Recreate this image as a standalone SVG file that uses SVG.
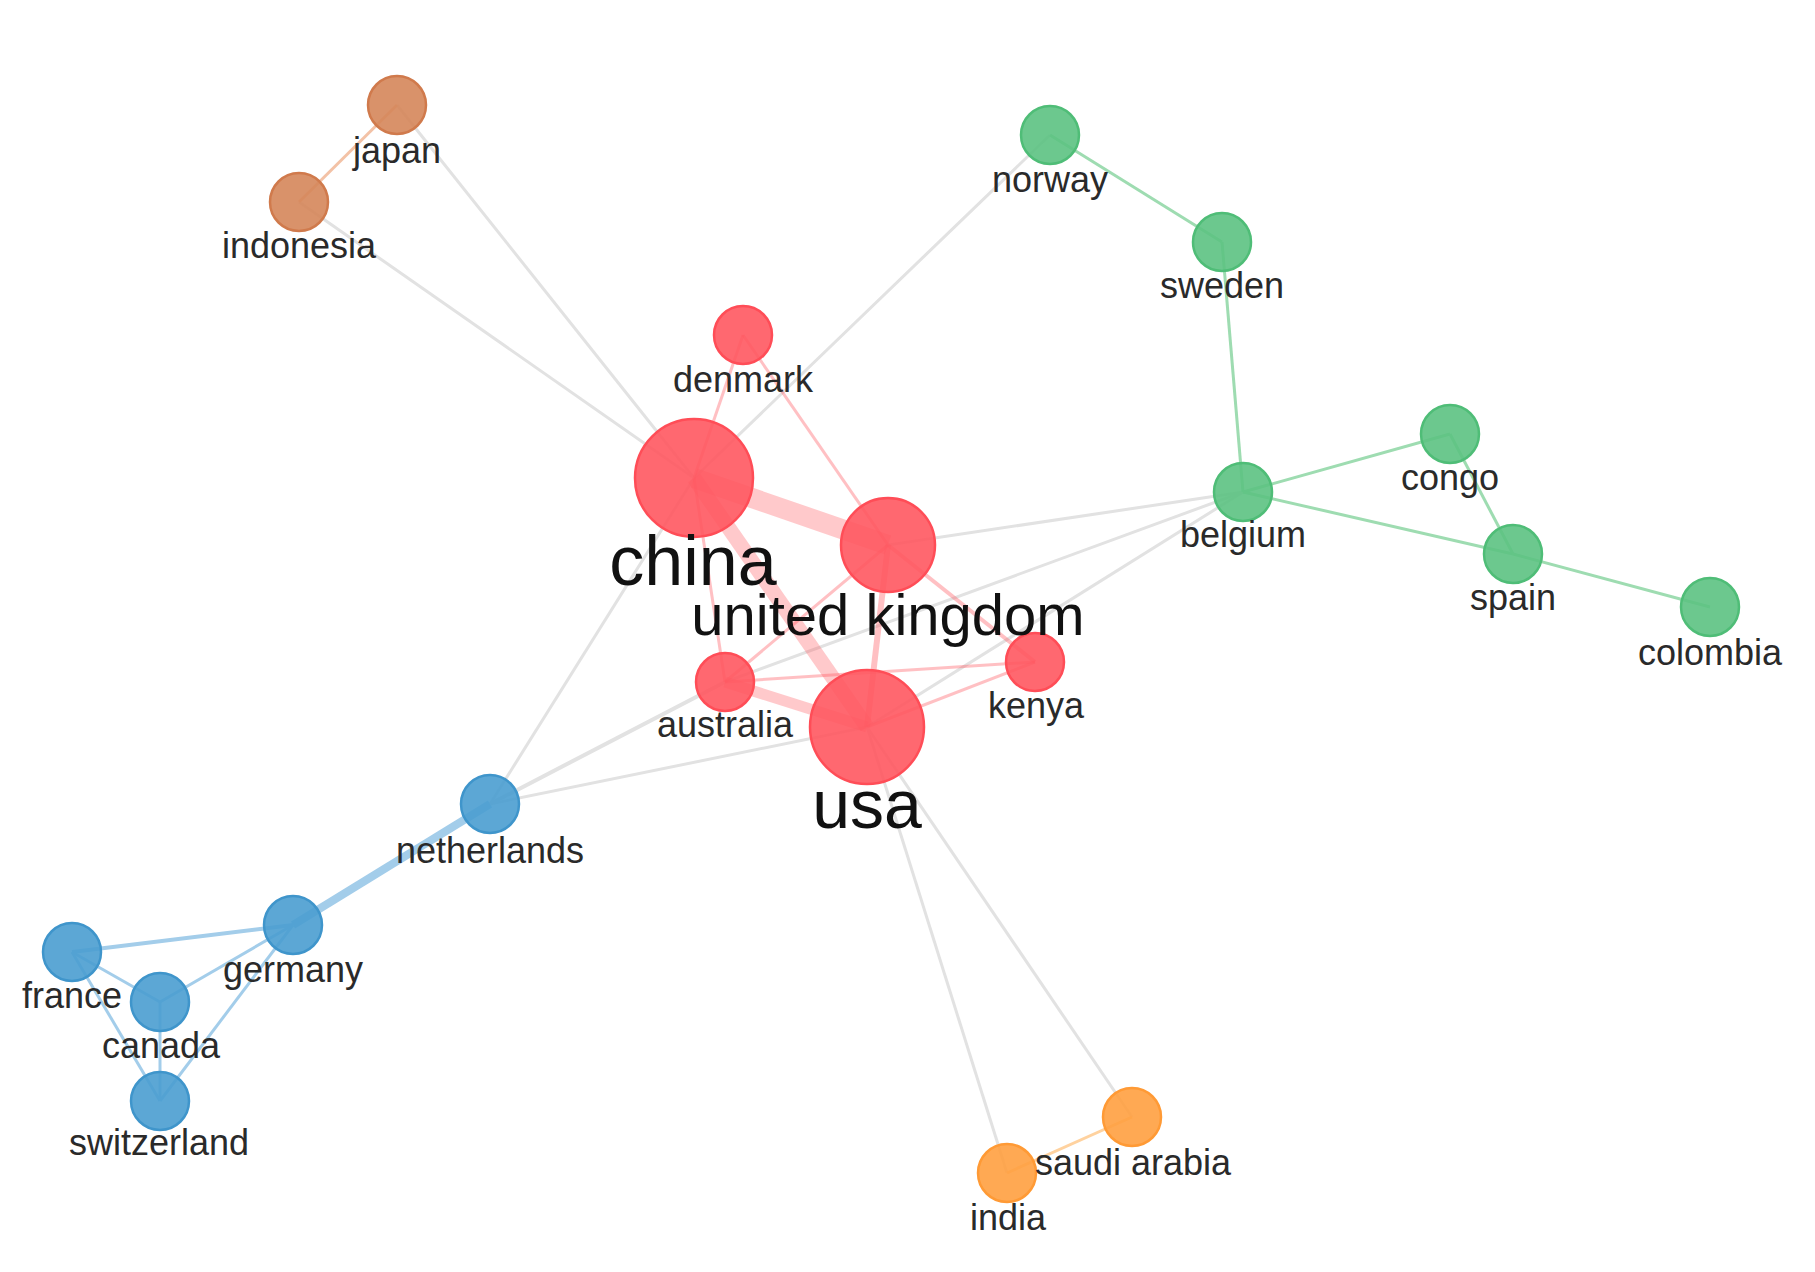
<svg xmlns="http://www.w3.org/2000/svg" width="1815" height="1272" viewBox="0 0 1815 1272">
<style>
  text { font-family: "Liberation Sans", Arial, sans-serif; text-anchor: middle; }
  .lbl { font-size: 36px; fill: #2a2a2a; }
  .big { fill: #111111; }
  .edge { fill: none; stroke-linecap: butt; }
  .grey { stroke: #e2e2e2; stroke-width: 3; }
  .red { stroke: #ff5a62; stroke-opacity: 0.38; stroke-width: 3; }
  .green { stroke: #9edcb1; stroke-width: 3; }
  .blue { stroke: #a3cdea; stroke-width: 3; }
  .brown { stroke: #f3c2a6; stroke-width: 3; }
  .orange { stroke: #ffd29f; stroke-width: 3; }
  .n { stroke-width: 2.5; fill-opacity: 0.9; }
  .nred { fill: #ff5860; stroke: #ff4d57; }
  .ngreen { fill: #5cc282; stroke: #4fbd77; }
  .nblue { fill: #4a9dd0; stroke: #3f95cb; }
  .nbrown { fill: #d5865a; stroke: #d07a4c; }
  .norange { fill: #ffa040; stroke: #ff9a35; }
</style>
<rect x="0" y="0" width="1815" height="1272" fill="#ffffff"/>
<g id="connectors">
  <!-- grey inter-cluster -->
  <line class="edge grey" x1="397" y1="105" x2="694" y2="478"/>
  <line class="edge grey" x1="299" y1="202" x2="694" y2="478"/>
  <line class="edge grey" x1="1050" y1="135" x2="694" y2="478"/>
  <line class="edge grey" x1="1243" y1="492" x2="888" y2="545"/>
  <line class="edge grey" x1="1243" y1="492" x2="725" y2="682"/>
  <line class="edge grey" x1="1243" y1="492" x2="867" y2="727"/>
  <line class="edge grey" x1="490" y1="804" x2="694" y2="478"/>
  <line class="edge grey" x1="490" y1="804" x2="725" y2="682" style="stroke-width:4"/>
  <line class="edge grey" x1="490" y1="804" x2="867" y2="727"/>
  <line class="edge grey" x1="867" y1="727" x2="1007" y2="1173"/>
  <line class="edge grey" x1="867" y1="727" x2="1132" y2="1117"/>
  <!-- red cluster -->
  <line class="edge red" x1="694" y1="478" x2="888" y2="545" style="stroke-width:20;stroke-opacity:0.33"/>
  <line class="edge red" x1="694" y1="478" x2="867" y2="727" style="stroke-width:15;stroke-opacity:0.33"/>
  <line class="edge red" x1="725" y1="682" x2="867" y2="727" style="stroke-width:11;stroke-opacity:0.33"/>
  <line class="edge red" x1="888" y1="545" x2="867" y2="727" style="stroke-width:6"/>
  <line class="edge red" x1="694" y1="478" x2="743" y2="335"/>
  <line class="edge red" x1="743" y1="335" x2="888" y2="545"/>
  <line class="edge red" x1="694" y1="478" x2="725" y2="682"/>
  <line class="edge red" x1="888" y1="545" x2="725" y2="682"/>
  <line class="edge red" x1="888" y1="545" x2="1035" y2="662" style="stroke-width:4"/>
  <line class="edge red" x1="725" y1="682" x2="1035" y2="662"/>
  <line class="edge red" x1="867" y1="727" x2="1035" y2="662"/>
  <!-- green cluster -->
  <line class="edge green" x1="1050" y1="135" x2="1222" y2="242"/>
  <line class="edge green" x1="1222" y1="242" x2="1243" y2="492"/>
  <line class="edge green" x1="1243" y1="492" x2="1450" y2="434"/>
  <line class="edge green" x1="1243" y1="492" x2="1513" y2="554"/>
  <line class="edge green" x1="1450" y1="434" x2="1513" y2="554"/>
  <line class="edge green" x1="1513" y1="554" x2="1710" y2="607"/>
  <!-- blue cluster -->
  <line class="edge blue" x1="490" y1="804" x2="293" y2="925" style="stroke-width:8"/>
  <line class="edge blue" x1="293" y1="925" x2="72" y2="952" style="stroke-width:4"/>
  <line class="edge blue" x1="293" y1="925" x2="160" y2="1002"/>
  <line class="edge blue" x1="293" y1="925" x2="160" y2="1101"/>
  <line class="edge blue" x1="72" y1="952" x2="160" y2="1002"/>
  <line class="edge blue" x1="72" y1="952" x2="160" y2="1101"/>
  <line class="edge blue" x1="160" y1="1002" x2="160" y2="1101"/>
  <!-- small clusters -->
  <line class="edge brown" x1="397" y1="105" x2="299" y2="202"/>
  <line class="edge orange" x1="1007" y1="1173" x2="1132" y2="1117"/>
</g>
<g id="node-japan"><circle class="n nbrown" cx="397" cy="105" r="29"/><text class="lbl" x="397" y="163">japan</text></g>
<g id="node-indonesia"><circle class="n nbrown" cx="299" cy="202" r="29"/><text class="lbl" x="299" y="258">indonesia</text></g>
<g id="node-norway"><circle class="n ngreen" cx="1050" cy="135" r="29"/><text class="lbl" x="1050" y="192">norway</text></g>
<g id="node-sweden"><circle class="n ngreen" cx="1222" cy="242" r="29"/><text class="lbl" x="1222" y="298">sweden</text></g>
<g id="node-belgium"><circle class="n ngreen" cx="1243" cy="492" r="29"/><text class="lbl" x="1243" y="547">belgium</text></g>
<g id="node-congo"><circle class="n ngreen" cx="1450" cy="434" r="29"/><text class="lbl" x="1450" y="490">congo</text></g>
<g id="node-spain"><circle class="n ngreen" cx="1513" cy="554" r="29"/><text class="lbl" x="1513" y="610">spain</text></g>
<g id="node-colombia"><circle class="n ngreen" cx="1710" cy="607" r="29"/><text class="lbl" x="1710" y="665">colombia</text></g>
<g id="node-netherlands"><circle class="n nblue" cx="490" cy="804" r="29"/><text class="lbl" x="490" y="863">netherlands</text></g>
<g id="node-germany"><circle class="n nblue" cx="293" cy="925" r="29"/><text class="lbl" x="293" y="982">germany</text></g>
<g id="node-france"><circle class="n nblue" cx="72" cy="952" r="29"/><text class="lbl" x="72" y="1008">france</text></g>
<g id="node-canada"><circle class="n nblue" cx="160" cy="1002" r="29"/><text class="lbl" x="161" y="1058">canada</text></g>
<g id="node-switzerland"><circle class="n nblue" cx="160" cy="1101" r="29"/><text class="lbl" x="159" y="1155">switzerland</text></g>
<g id="node-india"><circle class="n norange" cx="1007" cy="1173" r="29"/><text class="lbl" x="1008" y="1230">india</text></g>
<g id="node-saudi-arabia"><circle class="n norange" cx="1132" cy="1117" r="29"/><text class="lbl" x="1133" y="1175">saudi arabia</text></g>
<g id="node-denmark"><circle class="n nred" cx="743" cy="335" r="29"/><text class="lbl" x="743" y="392">denmark</text></g>
<g id="node-australia"><circle class="n nred" cx="725" cy="682" r="29"/><text class="lbl" x="725" y="737">australia</text></g>
<g id="node-kenya"><circle class="n nred" cx="1035" cy="662" r="29"/><text class="lbl" x="1036" y="718">kenya</text></g>
<g id="node-usa"><circle class="n nred" cx="867" cy="727" r="57"/><text class="big" x="867" y="828" font-size="68">usa</text></g>
<g id="node-china"><circle class="n nred" cx="694" cy="478" r="59"/><text class="big" x="693" y="585" font-size="70">china</text></g>
<g id="node-united-kingdom"><circle class="n nred" cx="888" cy="545" r="47"/><text class="big" x="888" y="635" font-size="58">united kingdom</text></g>
</svg>
